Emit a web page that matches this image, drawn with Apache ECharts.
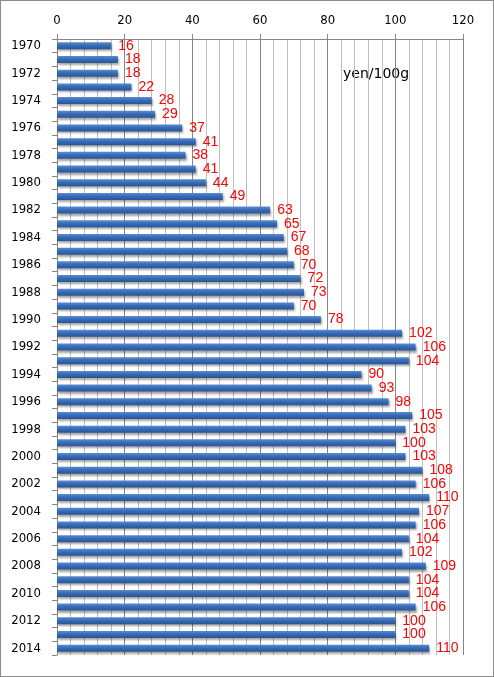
<!DOCTYPE html>
<html><head><meta charset="utf-8">
<script src="https://cdn.jsdelivr.net/npm/echarts@6/dist/echarts.min.js"></script>
<style>html,body{margin:0;padding:0;background:#fff}#c{width:494px;height:677px;box-sizing:border-box;border:1px solid #8c8c8c}</style>
</head><body><div id="c"></div>
<script>
var years = ['1970','1971','1972','1973','1974','1975','1976','1977','1978','1979','1980','1981','1982','1983','1984','1985','1986','1987','1988','1989','1990','1991','1992','1993','1994','1995','1996','1997','1998','1999','2000','2001','2002','2003','2004','2005','2006','2007','2008','2009','2010','2011','2012','2013','2014'];
var prices = [16,18,18,22,28,29,37,41,38,41,44,49,63,65,67,68,70,72,73,70,78,102,106,104,90,93,98,105,103,100,103,108,106,110,107,106,104,102,109,104,104,106,100,100,110];
var xTicks = [0,20,40,60,80,100,120];
var unitLabel = 'yen/100g';

var chart = echarts.init(document.getElementById('c'));
chart.setOption({
  animation: false,
  grid: {left: 56, right: 30, top: 38, bottom: 21, containLabel: false},
  xAxis: {
    type: 'value', position: 'top', min: xTicks[0], max: xTicks[xTicks.length-1], interval: 20,
    axisLine: {show: true, lineStyle: {color: '#868686'}},
    axisTick: {show: true, length: 5, lineStyle: {color: '#868686'}},
    axisLabel: {color: '#000', fontFamily: 'DejaVu Sans Condensed, DejaVu Sans', fontSize: 13, margin: 12},
    splitLine: {show: true, lineStyle: {color: '#868686', width: 1}},
    minorTick: {show: false, splitNumber: 5},
    minorSplitLine: {show: true, lineStyle: {color: '#bfbfbf', width: 1}}
  },
  yAxis: {
    type: 'category', data: years, inverse: true,
    axisLine: {show: true, lineStyle: {color: '#868686'}},
    axisTick: {show: true, interval: 0, length: 5, lineStyle: {color: '#868686'}},
    axisLabel: {interval: 1, color: '#000', fontFamily: 'DejaVu Sans Condensed, DejaVu Sans', fontSize: 13, margin: 16},
    splitLine: {show: false}
  },
  graphic: [{
    type: 'text', left: 339, top: 63,
    style: {text: unitLabel, fontFamily: 'DejaVu Sans', fontSize: 14, fill: '#000', backgroundColor: '#fff', padding: [3,3,3,3]}
  }],
  series: [{
    type: 'bar', data: prices, barWidth: 7,
    itemStyle: {
      color: new echarts.graphic.LinearGradient(0,0,0,1,[
        {offset: 0, color: '#5a8cd4'}, {offset: 0.45, color: '#386cb6'}, {offset: 1, color: '#2a5594'}
      ]),
      shadowColor: 'rgba(0,0,0,0.35)', shadowBlur: 2, shadowOffsetX: 1, shadowOffsetY: 2
    },
    label: {show: true, position: 'right', distance: 7, color: '#ff0000', fontFamily: 'Liberation Sans', fontSize: 14}
  }]
});
</script></body></html>
